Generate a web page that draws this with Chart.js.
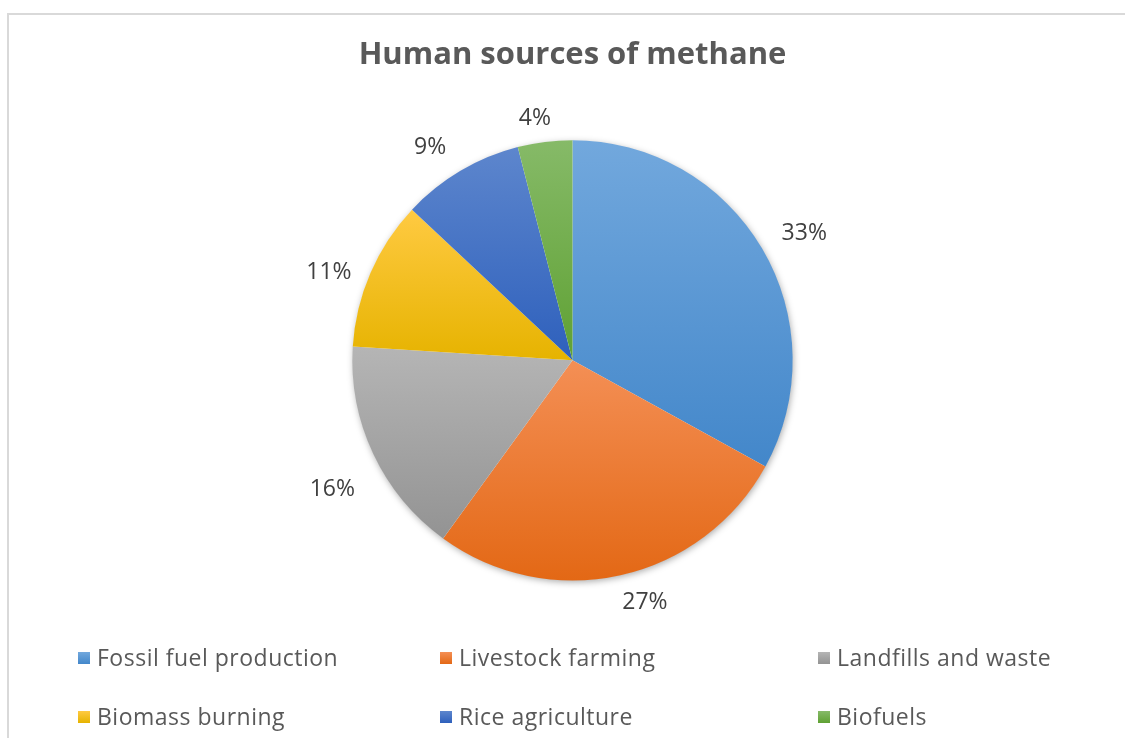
<!DOCTYPE html>
<html>
<head>
<meta charset="utf-8">
<script src="https://cdn.jsdelivr.net/npm/chart.js@4.4.1/dist/chart.umd.min.js"></script>
<style>
  html, body { margin: 0; padding: 0; background: #fff; }
  #wrap { position: relative; width: 1125px; height: 738px; overflow: hidden; }
  #frame { position: absolute; left: 7px; top: 13px; width: 1200px; height: 800px;
           border: 2px solid #d9d9d9; box-sizing: border-box; }
  #wrap canvas { position: absolute; left: 0; top: 0; }
</style>
</head>
<body>
<div id="wrap">
  <div id="frame"></div>
  <canvas id="methane" width="1125" height="738"></canvas>
</div>
<script>
const labels = ['Fossil fuel production', 'Livestock farming', 'Landfills and waste',
                'Biomass burning', 'Rice agriculture', 'Biofuels'];
const shares = [33, 27, 16, 11, 9, 4];
// light (top) and dark (bottom) stops for each slice
const topColors = ['#72a8dd', '#f48f55', '#b5b5b5', '#ffca42', '#5d86cd', '#86ba68'];
const bottomColors = ['#4387ca', '#e36815', '#939393', '#e6b300', '#2e60bc', '#5fa133'];
// small hand offsets for the percentage labels, in px
const labelNudge = [[9, -2], [16, 3], [-6, 25], [-6, 9], [-14, -2], [-6, 1]];

const FONT = "'Open Sans', 'DejaVu Sans', sans-serif";

// vertical extent of a slice, angles measured clockwise from 12 o'clock
function sliceSpan(cy, r, a0, a1) {
  let ys = [cy, cy - r * Math.cos(a0), cy - r * Math.cos(a1)];
  if (a0 <= 0 && a1 >= 0) ys.push(cy - r);
  if (a0 <= Math.PI && a1 >= Math.PI) ys.push(cy + r);
  return [Math.min(...ys), Math.max(...ys)];
}

function sliceFill(ctx) {
  const chart = ctx.chart;
  const area = chart.chartArea;
  const i = ctx.dataIndex;
  if (!area) return topColors[i];
  const cy = (area.top + area.bottom) / 2;
  const r = Math.min(area.right - area.left, area.bottom - area.top) / 2;
  const total = shares.reduce((a, b) => a + b, 0);
  let before = 0;
  for (let k = 0; k < i; k++) before += shares[k];
  const a0 = before / total * Math.PI * 2;
  const a1 = (before + shares[i]) / total * Math.PI * 2;
  const [y0, y1] = sliceSpan(cy, r, a0, a1);
  const g = chart.ctx.createLinearGradient(0, y0, 0, y1);
  g.addColorStop(0, topColors[i]);
  g.addColorStop(1, bottomColors[i]);
  return g;
}

// soft shadow under the whole pie
const pieShadow = {
  id: 'pieShadow',
  beforeDatasetsDraw(chart) {
    const arc = chart.getDatasetMeta(0).data[0];
    if (!arc) return;
    const c = chart.ctx;
    c.save();
    c.shadowColor = 'rgba(0,0,0,0.35)';
    c.shadowBlur = 7;
    c.shadowOffsetX = 1;
    c.shadowOffsetY = 2;
    c.fillStyle = '#ffffff';
    c.beginPath();
    c.arc(arc.x, arc.y, arc.outerRadius - 0.5, 0, Math.PI * 2);
    c.fill();
    c.restore();
  }
};

// percentage labels just outside each slice
const outsideLabels = {
  id: 'outsideLabels',
  afterDatasetsDraw(chart) {
    const c = chart.ctx;
    const meta = chart.getDatasetMeta(0);
    c.save();
    c.font = '23px ' + FONT;
    c.fillStyle = '#404040';
    c.textAlign = 'center';
    c.textBaseline = 'middle';
    meta.data.forEach((arc, i) => {
      const mid = (arc.startAngle + arc.endAngle) / 2;
      const dx = Math.cos(mid), dy = Math.sin(mid);
      const text = shares[i] + '%';
      const w = c.measureText(text).width;
      const h = 18;
      const d = arc.outerRadius + 16;
      const x = arc.x + dx * d + dx * w / 2 + labelNudge[i][0];
      const y = arc.y + dy * d + dy * h / 2 + labelNudge[i][1];
      c.fillText(text, x, y);
    });
    c.restore();
  }
};

// legend laid out on a fixed three-column grid
const gridLegend = {
  id: 'gridLegend',
  afterDraw(chart) {
    const c = chart.ctx;
    const colX = [78, 440, 818];
    const rowY = [658, 717];
    const box = 12;
    c.save();
    c.font = '23px ' + FONT;
    c.letterSpacing = '0.5px';
    c.textBaseline = 'middle';
    c.textAlign = 'left';
    labels.forEach((name, i) => {
      const x = colX[i % 3];
      const y = rowY[Math.floor(i / 3)];
      const g = c.createLinearGradient(0, y - box / 2, 0, y + box / 2);
      g.addColorStop(0, topColors[i]);
      g.addColorStop(1, bottomColors[i]);
      c.fillStyle = g;
      c.fillRect(x, y - box / 2, box, box);
      c.fillStyle = '#595959';
      c.fillText(name, x + box + 7, y + 1);
    });
    c.restore();
  }
};

new Chart(document.getElementById('methane'), {
  type: 'pie',
  data: {
    labels: labels,
    datasets: [{
      data: shares,
      backgroundColor: sliceFill,
      borderWidth: 0
    }]
  },
  options: {
    responsive: false,
    animation: false,
    layout: { padding: { left: 20, right: 0, top: 0, bottom: 157.5 } },
    plugins: {
      legend: { display: false },
      tooltip: { enabled: false },
      title: {
        display: true,
        text: 'Human sources of methane',
        color: '#595959',
        font: { family: FONT, size: 31, weight: 'bold', lineHeight: 1.2 },
        padding: { top: 37, bottom: 66 }
      }
    }
  },
  plugins: [pieShadow, outsideLabels, gridLegend]
});
</script>
</body>
</html>
